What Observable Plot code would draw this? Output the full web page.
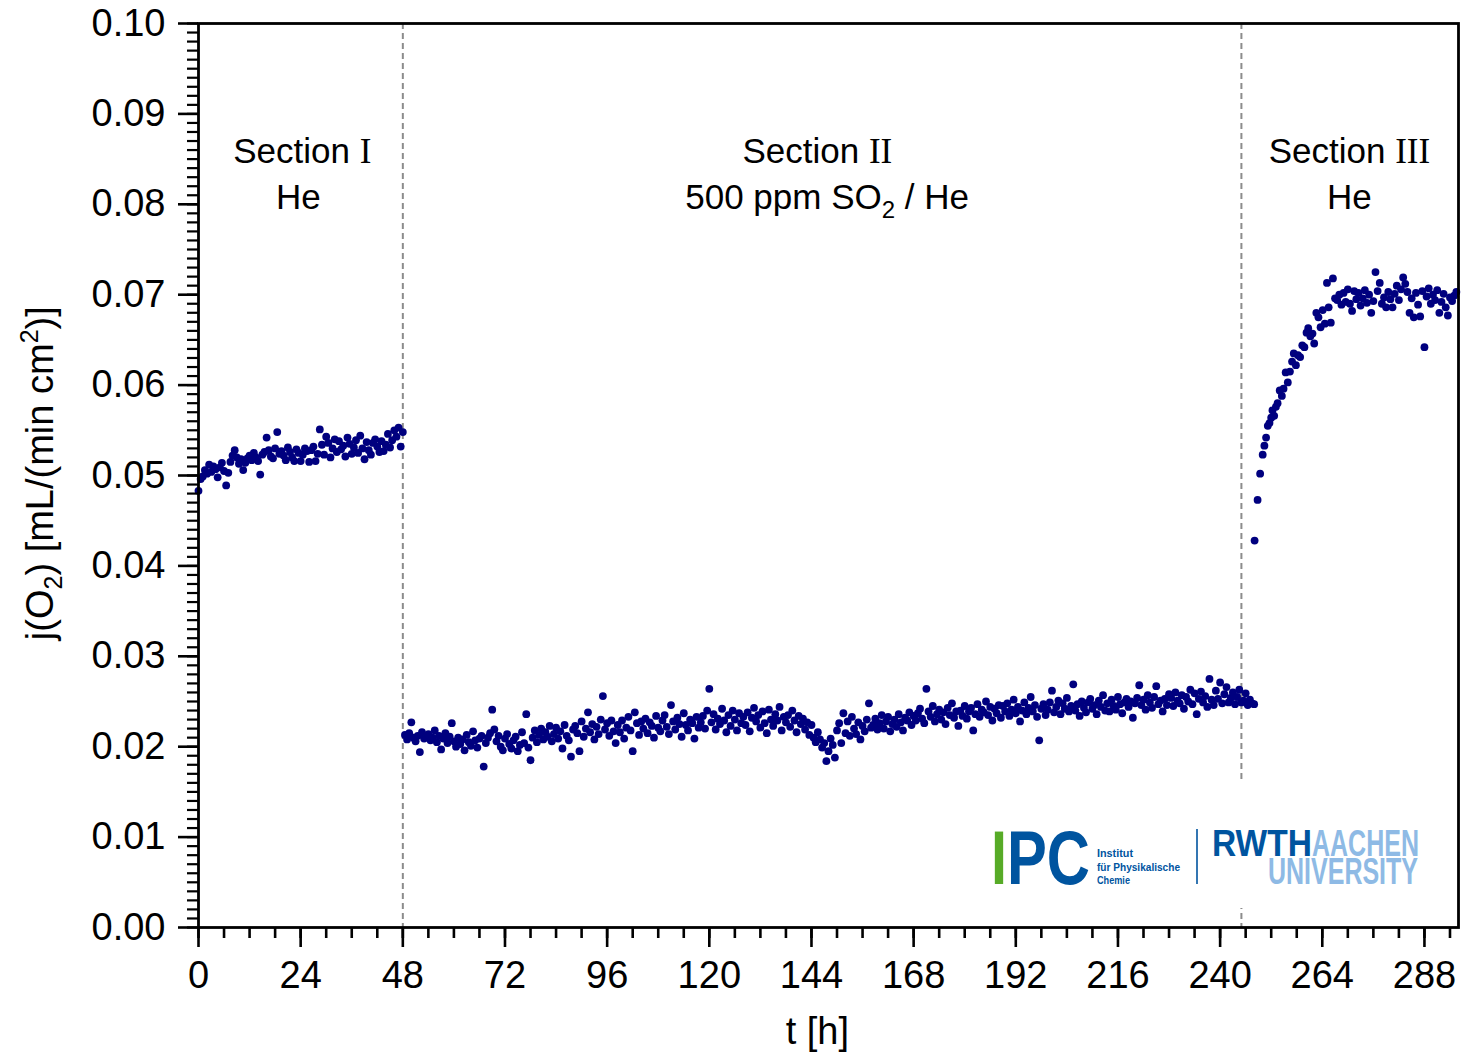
<!DOCTYPE html>
<html>
<head>
<meta charset="utf-8">
<script src="https://cdn.jsdelivr.net/npm/d3@7"></script>
<script src="https://cdn.jsdelivr.net/npm/@observablehq/plot@0.6"></script>
<style>
  html, body { margin: 0; padding: 0; background: #fff; }
</style>
</head>
<body>
<div id="chart"></div>
<script>
// ---------- DATA ----------
// Section I (He): sampled every 0.5 h starting at t = 0 h
const sec1Start = 0, sec1Step = 0.5;
const sec1Values = [
0.0483,0.0496,0.0499,0.0506,0.0502,0.0512,0.0504,0.0510,0.0507,0.0498,
0.0509,0.0514,0.0505,0.0489,0.0503,0.0515,0.0522,0.0528,0.0520,0.0513,
0.0518,0.0506,0.0514,0.0519,0.0522,0.0517,0.0525,0.0520,0.0516,0.0501,
0.0523,0.0526,0.0542,0.0528,0.0521,0.0519,0.0530,0.0548,0.0524,0.0527,
0.0522,0.0517,0.0531,0.0526,0.0520,0.0516,0.0529,0.0525,0.0516,0.0523,
0.0530,0.0527,0.0515,0.0528,0.0532,0.0516,0.0524,0.0551,0.0534,0.0523,
0.0543,0.0536,0.0520,0.0530,0.0540,0.0526,0.0538,0.0529,0.0533,0.0521,
0.0542,0.0535,0.0524,0.0531,0.0539,0.0525,0.0544,0.0530,0.0518,0.0537,
0.0528,0.0523,0.0536,0.0540,0.0532,0.0526,0.0538,0.0527,0.0534,0.0546,
0.0531,0.0539,0.0550,0.0543,0.0553,0.0532,0.0548
];

// Section II (500 ppm SO2 / He): sampled every 0.5 h starting at t = 48.5 h
const sec2Start = 48.5, sec2Step = 0.5;
const sec2Values = [
0.0213,0.0208,0.0215,0.0227,0.0210,0.0206,0.0212,0.0194,0.0216,0.0209,0.0211,0.0214,0.0207,0.0210,0.0218,0.0205,0.0212,0.0197,0.0209,0.0215,
0.0204,0.0211,0.0226,0.0206,0.0200,0.0210,0.0203,0.0208,0.0196,0.0213,0.0205,0.0201,0.0217,0.0207,0.0199,0.0209,0.0212,0.0178,0.0204,0.0210,
0.0215,0.0241,0.0219,0.0206,0.0212,0.0200,0.0196,0.0209,0.0214,0.0203,0.0198,0.0207,0.0211,0.0195,0.0202,0.0216,0.0204,0.0236,0.0199,0.0185,
0.0210,0.0218,0.0205,0.0213,0.0220,0.0208,0.0216,0.0211,0.0223,0.0206,0.0214,0.0221,0.0209,0.0217,0.0198,0.0224,0.0212,0.0207,0.0189,0.0219,
0.0223,0.0215,0.0195,0.0228,0.0211,0.0220,0.0238,0.0216,0.0225,0.0208,0.0222,0.0214,0.0230,0.0256,0.0219,0.0226,0.0212,0.0229,0.0217,0.0204,
0.0224,0.0216,0.0229,0.0209,0.0221,0.0233,0.0218,0.0195,0.0238,0.0226,0.0213,0.0228,0.0220,0.0231,0.0215,0.0227,0.0223,0.0210,0.0234,0.0221,
0.0217,0.0229,0.0235,0.0222,0.0214,0.0246,0.0228,0.0219,0.0232,0.0225,0.0211,0.0237,0.0224,0.0218,0.0230,0.0226,0.0209,0.0233,0.0221,0.0227,
0.0234,0.0220,0.0240,0.0264,0.0227,0.0236,0.0219,0.0231,0.0225,0.0242,0.0229,0.0216,0.0235,0.0223,0.0240,0.0230,0.0218,0.0237,0.0226,0.0233,
0.0224,0.0238,0.0217,0.0232,0.0243,0.0228,0.0235,0.0221,0.0239,0.0226,0.0215,0.0241,0.0230,0.0223,0.0236,0.0229,0.0244,0.0218,0.0233,0.0227,
0.0235,0.0222,0.0240,0.0229,0.0216,0.0234,0.0225,0.0231,0.0219,0.0227,0.0213,0.0224,0.0210,0.0205,0.0216,0.0208,0.0199,0.0204,0.0184,0.0195,
0.0209,0.0202,0.0188,0.0218,0.0226,0.0204,0.0237,0.0215,0.0228,0.0212,0.0233,0.0220,0.0214,0.0227,0.0208,0.0223,0.0217,0.0230,0.0248,0.0221,
0.0224,0.0231,0.0219,0.0226,0.0235,0.0220,0.0228,0.0233,0.0217,0.0225,0.0230,0.0222,0.0236,0.0227,0.0218,0.0232,0.0229,0.0238,0.0224,0.0234,
0.0229,0.0237,0.0242,0.0231,0.0226,0.0264,0.0239,0.0233,0.0245,0.0228,0.0236,0.0241,0.0230,0.0238,0.0225,0.0243,0.0235,0.0248,0.0232,0.0239,
0.0223,0.0240,0.0234,0.0245,0.0231,0.0239,0.0243,0.0218,0.0236,0.0247,0.0233,0.0241,0.0238,0.0250,0.0235,0.0244,0.0229,0.0242,0.0237,0.0246,
0.0232,0.0245,0.0239,0.0248,0.0234,0.0241,0.0252,0.0237,0.0244,0.0228,0.0240,0.0249,0.0236,0.0243,0.0255,0.0239,0.0246,0.0233,0.0207,0.0242,
0.0247,0.0235,0.0241,0.0249,0.0262,0.0238,0.0244,0.0251,0.0236,0.0248,0.0242,0.0254,0.0239,0.0245,0.0269,0.0240,0.0247,0.0234,0.0250,0.0243,
0.0238,0.0249,0.0253,0.0242,0.0246,0.0236,0.0251,0.0244,0.0257,0.0240,0.0248,0.0239,0.0252,0.0245,0.0241,0.0255,0.0247,0.0237,0.0249,0.0253,
0.0244,0.0250,0.0232,0.0248,0.0254,0.0268,0.0246,0.0252,0.0241,0.0257,0.0249,0.0243,0.0255,0.0267,0.0247,0.0251,0.0239,0.0253,0.0246,0.0258,
0.0254,0.0245,0.0260,0.0251,0.0248,0.0257,0.0242,0.0255,0.0250,0.0263,0.0247,0.0259,0.0236,0.0253,0.0261,0.0249,0.0256,0.0244,0.0275,0.0252,
0.0246,0.0262,0.0253,0.0271,0.0248,0.0258,0.0266,0.0249,0.0254,0.0260,0.0247,0.0255,0.0263,0.0249,0.0251,0.0259,0.0246,0.0252,0.0248,0.0247
];

// Section III (He): explicit times [h] and fluxes
const sec3Times = [
248.1,248.8,249.4,250.0,250.4,250.8,251.2,251.6,252.0,252.3,
252.7,253.1,253.5,254.0,254.5,254.9,255.4,255.9,256.4,256.9,
257.3,257.8,258.3,258.8,259.3,259.8,260.3,260.7,261.2,261.7,
262.1,262.6,263.1,263.6,264.1,264.6,265.1,265.5,266.0,266.5,
267.0,267.5,268.0,268.5,269.0,269.5,270.0,270.5,271.0,271.5,
272.0,272.5,273.0,273.5,274.0,274.5,275.0,275.5,276.0,276.5,
277.0,277.5,278.0,278.5,279.0,279.5,280.0,280.5,281.0,281.5,
282.0,282.5,283.0,283.5,284.0,284.5,285.0,285.5,286.0,286.5,
287.0,287.5,288.0,288.5,289.0,289.5,290.0,290.5,291.0,291.5,
292.0,292.5,293.0,293.5,294.0,294.5,295.0,295.5
];
const sec3Values = [
0.0428,0.0473,0.0502,0.0523,0.0533,0.0542,0.0555,0.0558,0.0564,0.0572,
0.0566,0.0576,0.0580,0.0594,0.0588,0.0596,0.0614,0.0603,0.0615,0.0626,
0.0635,0.0622,0.0633,0.0631,0.0644,0.0642,0.0658,0.0663,0.0654,0.0657,
0.0646,0.0680,0.0675,0.0664,0.0683,0.0668,0.0713,0.0686,0.0669,0.0718,
0.0696,0.0694,0.0700,0.0689,0.0702,0.0692,0.0706,0.0690,0.0682,0.0704,
0.0695,0.0702,0.0688,0.0696,0.0705,0.0691,0.0700,0.0680,0.0693,0.0725,
0.0704,0.0713,0.0690,0.0697,0.0686,0.0703,0.0695,0.0686,0.0701,0.0710,
0.0694,0.0706,0.0719,0.0712,0.0703,0.0680,0.0696,0.0675,0.0702,0.0689,
0.0676,0.0704,0.0642,0.0698,0.0707,0.0690,0.0700,0.0694,0.0705,0.0680,
0.0692,0.0701,0.0686,0.0677,0.0697,0.0693,0.0699,0.0703
];

// Gas-switch times [h]
const switchTimes = [48, 245];

// Axis ticks
const xMajorTicks = [0, 24, 48, 72, 96, 120, 144, 168, 192, 216, 240, 264, 288];
const yMajorTicks = [0, 0.01, 0.02, 0.03, 0.04, 0.05, 0.06, 0.07, 0.08, 0.09, 0.10];
const yTickLabels = ["0.00","0.01","0.02","0.03","0.04","0.05","0.06","0.07","0.08","0.09","0.10"];
const xMinorStep = 6, yMinorStep = 0.001;

// Section annotations
const sectionNames = ["I", "II", "III"];
const sectionGas = [["He"], ["500 ppm SO", {sub: "2"}, " / He"], ["He"]];
const sectionCenters = [24.5, 145.5, 270.5];
const sectionGasCenters = [23.6, 147.8, 270.5];

// ---------- BUILD ----------
const data = [
  ...sec1Values.map((v, i) => ({t: sec1Start + i * sec1Step, v})),
  ...sec2Values.map((v, i) => ({t: sec2Start + i * sec2Step, v})),
  ...sec3Values.map((v, i) => ({t: sec3Times[i], v}))
];
const xMinor = d3.range(0, 297, xMinorStep);
const yMinor = d3.range(0, 100.5, 1).map(k => k * yMinorStep);

const SANS = "'Liberation Sans', Arial, Helvetica, sans-serif";
const SERIF = "'Liberation Serif', 'Times New Roman', serif";
const NARROW = "'Liberation Sans Narrow', 'Arial Narrow', 'Liberation Sans', sans-serif";

const chart = Plot.plot({
  width: 1462,
  height: 1052,
  marginLeft: 198,
  marginRight: 4,
  marginTop: 23,
  marginBottom: 125,
  x: {domain: [0, 296]},
  y: {domain: [0, 0.1]},
  style: {fontFamily: SANS, fontSize: "38px", background: "white", color: "black"},
  marks: [
    Plot.ruleX(switchTimes, {stroke: "#8c8c8c", strokeWidth: 2, strokeDasharray: "6,4"}),
    Plot.dot(data, {x: "t", y: "v", r: 3.9, fill: "#00007f", stroke: "none"}),
    Plot.axisX({ticks: xMinor, tickSize: 11, tickFormat: () => "", strokeWidth: 2.6, label: null}),
    Plot.axisX({ticks: xMajorTicks, tickSize: 20, tickPadding: 14, tickFormat: d => String(d),
                strokeWidth: 2.6, fontSize: 38, label: null}),
    Plot.axisY({ticks: yMinor, tickSize: 11, tickFormat: () => "", strokeWidth: 2.2, label: null}),
    Plot.axisY({ticks: yMajorTicks, tickSize: 20, tickPadding: 13,
                tickFormat: d => yTickLabels[yMajorTicks.findIndex(t => Math.abs(t - d) < 1e-9)],
                strokeWidth: 2.6, fontSize: 38, label: null}),
    Plot.frame({stroke: "black", strokeWidth: 2.8})
  ]
});
document.getElementById("chart").appendChild(chart);

// ---------- ANNOTATIONS ----------
const svg = d3.select(chart);
const xs = chart.scale("x"), ys = chart.scale("y");
const ann = svg.append("g").attr("font-family", SANS).attr("fill", "black");

// write text parts; sub/superscripts shift the baseline, the next part shifts it back
function addParts(textSel, parts, subSize, subDy) {
  let pending = 0;
  parts.forEach(p => {
    if (typeof p === "string") {
      const ts = textSel.append("tspan").text(p);
      if (pending) ts.attr("dy", pending);
      pending = 0;
    } else if (p.sub) {
      textSel.append("tspan").attr("font-size", subSize).attr("dy", subDy + pending).text(p.sub);
      pending = -subDy;
    } else if (p.sup) {
      const up = subDy * 1.7;
      textSel.append("tspan").attr("font-size", subSize).attr("dy", -up + pending).text(p.sup);
      pending = up;
    }
  });
}

sectionNames.forEach((name, i) => {
  const t1 = ann.append("text")
    .attr("x", xs.apply(sectionCenters[i]))
    .attr("y", ys.apply(0.0845))
    .attr("text-anchor", "middle")
    .attr("font-size", 35);
  t1.append("tspan").text("Section ");
  t1.append("tspan").attr("font-family", SERIF).text(name);

  const t2 = ann.append("text")
    .attr("x", xs.apply(sectionGasCenters[i]))
    .attr("y", ys.apply(0.0794))
    .attr("text-anchor", "middle")
    .attr("font-size", 35);
  addParts(t2, sectionGas[i], 24, 9);
});

// x-axis title
ann.append("text")
  .attr("x", xs.apply(145.5))
  .attr("y", 1044)
  .attr("text-anchor", "middle")
  .attr("font-size", 38)
  .text("t [h]");

// y-axis title
const yt = ann.append("text")
  .attr("transform", `translate(53,${ys.apply(0.0502)}) rotate(-90)`)
  .attr("text-anchor", "middle")
  .attr("font-size", 38);
addParts(yt, ["j(O", {sub: "2"}, ") [mL/(min cm", {sup: "2"}, ")]"], 25, 9);

// ---------- LOGO (IPC / RWTH Aachen University) ----------
const logo = svg.append("g").attr("font-family", NARROW).attr("font-weight", "bold")
  .attr("text-anchor", "start");
logo.append("rect").attr("x", 985).attr("y", 780).attr("width", 462).attr("height", 128).attr("fill", "white");
logo.append("text").attr("x", 991).attr("y", 884).attr("font-size", 76).attr("fill", "#57ab27")
  .attr("textLength", 16).attr("lengthAdjust", "spacingAndGlyphs").text("I");
logo.append("text").attr("x", 1007).attr("y", 884).attr("font-size", 76).attr("fill", "#00549f")
  .attr("textLength", 83).attr("lengthAdjust", "spacingAndGlyphs").text("PC");
const small = [["Institut", 857, 36], ["für Physikalische", 870.5, 83], ["Chemie", 884, 33]];
small.forEach(([s, y, w]) => {
  logo.append("text").attr("x", 1097).attr("y", y).attr("font-size", 11).attr("fill", "#00549f")
    .attr("textLength", w).attr("lengthAdjust", "spacingAndGlyphs").text(s);
});
logo.append("line").attr("x1", 1197).attr("x2", 1197).attr("y1", 829).attr("y2", 884)
  .attr("stroke", "#00549f").attr("stroke-width", 1.6);
logo.append("text").attr("x", 1212).attr("y", 856).attr("font-size", 36).attr("fill", "#00549f")
  .attr("textLength", 100).attr("lengthAdjust", "spacingAndGlyphs").text("RWTH");
logo.append("text").attr("x", 1312).attr("y", 856).attr("font-size", 36).attr("fill", "#8ebae5")
  .attr("textLength", 107).attr("lengthAdjust", "spacingAndGlyphs").text("AACHEN");
logo.append("text").attr("x", 1268).attr("y", 884).attr("font-size", 36).attr("fill", "#8ebae5")
  .attr("textLength", 150).attr("lengthAdjust", "spacingAndGlyphs").text("UNIVERSITY");
</script>
</body>
</html>
